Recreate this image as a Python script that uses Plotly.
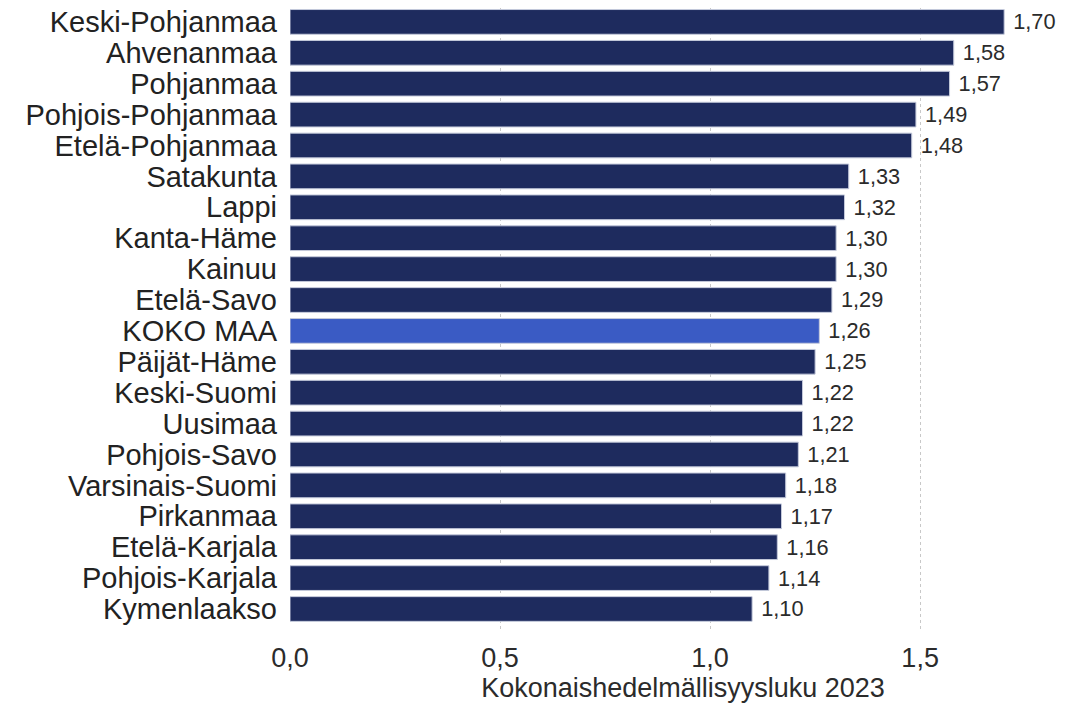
import plotly.graph_objects as go

regions = ["Keski-Pohjanmaa", "Ahvenanmaa", "Pohjanmaa", "Pohjois-Pohjanmaa", "Etelä-Pohjanmaa",
           "Satakunta", "Lappi", "Kanta-Häme", "Kainuu", "Etelä-Savo", "KOKO MAA", "Päijät-Häme",
           "Keski-Suomi", "Uusimaa", "Pohjois-Savo", "Varsinais-Suomi", "Pirkanmaa", "Etelä-Karjala",
           "Pohjois-Karjala", "Kymenlaakso"]
values = [1.70, 1.58, 1.57, 1.49, 1.48, 1.33, 1.32, 1.30, 1.30, 1.29, 1.26, 1.25,
          1.22, 1.22, 1.21, 1.18, 1.17, 1.16, 1.14, 1.10]
x_ticks = [0.0, 0.5, 1.0, 1.5]
axis_title = "Kokonaishedelmällisyysluku 2023"

NAVY = "#1e2b5e"
HIGHLIGHT = "#3a5bc4"
colors = [HIGHLIGHT if r == "KOKO MAA" else NAVY for r in regions]

FONT = "Liberation Sans, Arial, sans-serif"

fig = go.Figure(go.Bar(
    x=values, y=regions, orientation="h",
    marker=dict(color=colors, line=dict(color="#c5cadb", width=1)),
    texttemplate=" %{x:.2f}", textposition="outside", cliponaxis=False,
    textfont=dict(size=22, color="#2b2b2b", family=FONT),
    hoverinfo="skip",
))

fig.update_layout(
    width=1076, height=704,
    margin=dict(l=290, r=0, t=8, b=74),
    plot_bgcolor="white", paper_bgcolor="white",
    separators=", ",
    bargap=0.2,
    showlegend=False,
    font=dict(family=FONT, color="#2b2b2b"),
)
fig.update_xaxes(
    range=[0, 1.871], tickvals=x_ticks, tickformat=".1f",
    showgrid=True, gridcolor="#c8c8c8", griddash="dot", gridwidth=1,
    zeroline=False, showline=False, ticks="", automargin=False,
    tickfont=dict(size=27, family=FONT, color="#2b2b2b"),
    ticklabelstandoff=9,
    title=dict(text=axis_title, font=dict(size=27, family=FONT, color="#2b2b2b"), standoff=5),
)
fig.update_yaxes(
    range=[19.68, -0.45], showgrid=False, zeroline=False, showline=False, ticks="",
    tickmode="array", tickvals=regions, ticktext=regions, automargin=False,
    tickfont=dict(size=29, family=FONT, color="#222222"),
    ticklabelstandoff=12,
)

fig.write_html("out.html", config={"displayModeBar": False},
               post_script="document.body.style.margin='0';")
